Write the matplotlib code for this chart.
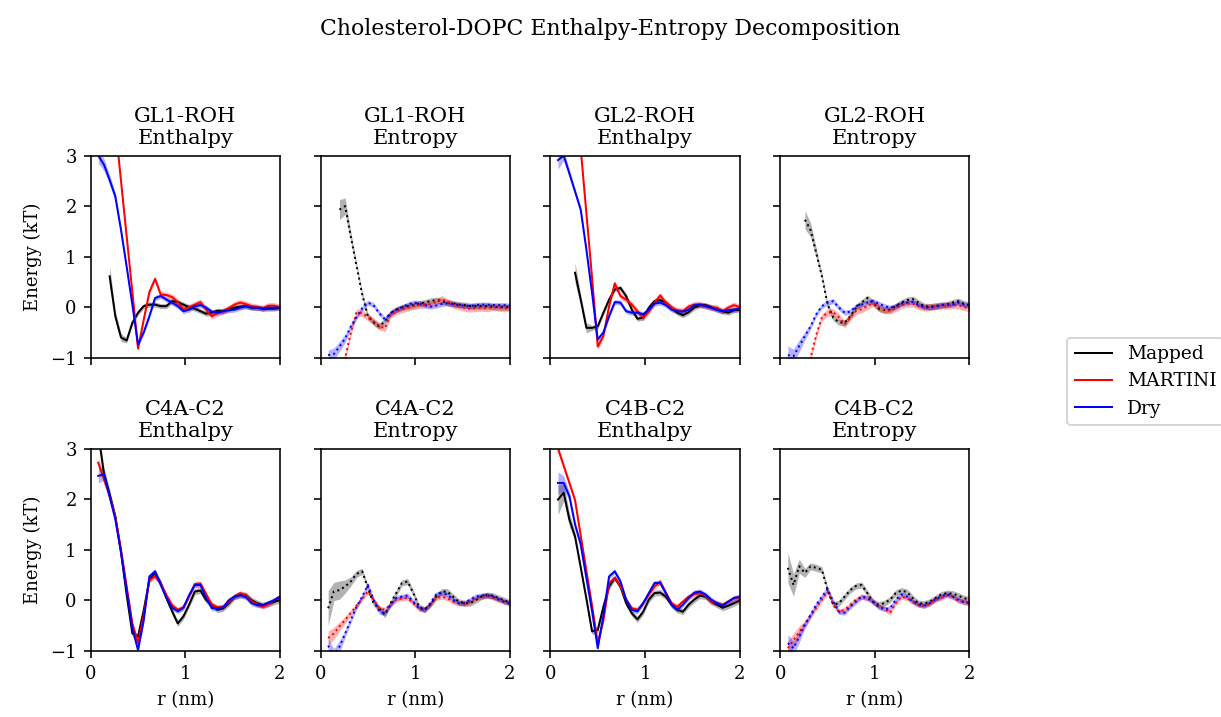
import numpy as np
import matplotlib
matplotlib.use('Agg')
import matplotlib.pyplot as plt

plt.rcParams['font.family'] = ['DejaVu Serif']
plt.rcParams['font.size'] = 9

# r grid (nm)
r = np.round(0.08 + 0.06 * np.arange(33), 2)
nan = np.nan

# ---- GL1-ROH enthalpy ----
gl1_enth_mapped = [nan, nan, 0.61, -0.18, -0.6, -0.66, -0.31, -0.11, 0.02, 0.05, 0.05, 0.02, 0.02, 0.12, 0.1, 0.05,
                   0.0, -0.03, -0.08, -0.13, -0.11, -0.07, -0.08, -0.03, -0.01, 0.01, 0.02, -0.01, -0.01, -0.03,
                   -0.03, -0.03, -0.01]
gl1_enth_martini = [9.0, 7.0, 5.0, 3.6, 2.5, 1.4, 0.3, -0.82, -0.25, 0.3, 0.56, 0.25, 0.24, 0.2, 0.1, -0.04, 0.0,
                    0.05, 0.1, -0.05, -0.18, -0.12, -0.08, -0.02, 0.05, 0.09, 0.06, 0.02, 0.0, -0.02, 0.03, 0.03, 0.0]
gl1_enth_dry = [3.0, 2.82, 2.52, 2.19, 1.53, 0.8, 0.05, -0.74, -0.5, -0.18, 0.18, 0.22, 0.15, 0.09, 0.02, -0.08,
                -0.05, 0.02, 0.04, -0.01, -0.09, -0.11, -0.08, -0.06, -0.05, -0.01, 0.02, -0.01, -0.01, -0.03,
                -0.01, -0.01, -0.01]

# ---- GL1-ROH entropy ----
gl1_entr_mapped = [nan, nan, 1.93, 2.0, 1.39, 0.82, 0.25, -0.18, -0.3, -0.38, -0.28, -0.12, -0.05, -0.01, 0.02,
                   0.04, 0.07, 0.09, 0.12, 0.14, 0.12, 0.09, 0.07, 0.05, 0.04, 0.02, 0.02, 0.02, 0.02, 0.01, 0.0,
                   0.0, 0.0]
gl1_entr_martini = [-1.6, -1.4, -1.2, -1.0, -0.5, -0.1, -0.12, -0.2, -0.28, -0.38, -0.42, -0.15, -0.08, -0.04,
                    -0.01, 0.02, 0.04, 0.05, 0.06, 0.1, 0.16, 0.1, 0.05, 0.02, -0.01, -0.03, -0.02, -0.01, -0.02,
                    0.0, -0.01, -0.02, -0.02]
gl1_entr_dry = [-0.95, -0.93, -0.78, -0.62, -0.38, -0.2, -0.02, 0.09, 0.04, -0.12, -0.24, -0.12, -0.05, 0.0, 0.05,
                0.09, 0.08, 0.04, 0.01, 0.03, 0.06, 0.08, 0.06, 0.04, 0.03, 0.02, 0.04, 0.05, 0.05, 0.04, 0.04,
                0.04, 0.03]

# ---- GL2-ROH enthalpy ----
gl2_enth_mapped = [nan, nan, nan, 0.68, 0.15, -0.41, -0.41, -0.38, -0.11, 0.15, 0.35, 0.38, 0.22, -0.05, -0.23,
                   -0.21, -0.01, 0.12, 0.14, 0.09, -0.01, -0.11, -0.16, -0.1, -0.01, 0.04, 0.04, 0.0, -0.05, -0.08,
                   -0.11, -0.06, -0.05]
gl2_enth_martini = [9.0, 7.0, 5.5, 4.2, 3.14, 1.86, 0.58, -0.78, -0.57, 0.02, 0.47, 0.22, 0.15, 0.05, -0.08, -0.21,
                    -0.09, 0.09, 0.23, 0.09, -0.01, -0.06, -0.08, 0.01, 0.05, 0.05, 0.02, -0.01, -0.01, -0.08, -0.01,
                    0.04, 0.0]
gl2_enth_dry = [2.91, 3.0, 2.65, 2.29, 1.93, 1.14, 0.28, -0.64, -0.5, -0.18, 0.1, 0.09, -0.08, -0.11, -0.11, -0.14,
                -0.05, 0.07, 0.09, 0.04, -0.05, -0.08, -0.09, -0.05, 0.04, 0.05, 0.02, -0.01, -0.05, -0.08, -0.06,
                -0.05, -0.03]

# ---- GL2-ROH entropy ----
gl2_entr_mapped = [nan, nan, nan, 1.73, 1.53, 1.07, 0.61, 0.05, -0.21, -0.3, -0.31, -0.18, -0.01, 0.09, 0.18, 0.09,
                   -0.03, -0.06, -0.05, 0.02, 0.09, 0.14, 0.16, 0.09, 0.02, 0.01, 0.02, 0.04, 0.05, 0.09, 0.12, 0.07,
                   0.04]
gl2_entr_martini = [-2.0, -1.8, -1.5, -1.25, -1.0, -0.55, -0.2, -0.11, -0.1, -0.2, -0.34, -0.2, -0.08, -0.04, 0.02,
                    0.08, 0.0, -0.06, -0.07, -0.02, 0.04, 0.07, 0.07, 0.02, -0.01, 0.0, 0.02, 0.03, 0.03, 0.04, 0.04,
                    0.0, -0.02]
gl2_entr_dry = [-0.95, -0.97, -0.77, -0.57, -0.38, -0.14, 0.02, 0.09, 0.12, -0.01, -0.11, -0.09, 0.02, 0.05, 0.09,
                0.12, 0.07, 0.02, -0.01, 0.02, 0.07, 0.09, 0.1, 0.04, 0.0, -0.01, 0.01, 0.04, 0.05, 0.05, 0.09,
                0.05, 0.04]

# ---- C4A-C2 enthalpy ----
c4a_enth_mapped = [3.3, 2.5, 2.1, 1.65, 0.95, 0.1, -0.66, -0.72, -0.2, 0.4, 0.54, 0.34, 0.04, -0.22, -0.46, -0.32,
                   -0.09, 0.17, 0.19, 0.0, -0.09, -0.19, -0.16, -0.06, 0.07, 0.1, 0.1, 0.0, -0.06, -0.1, -0.07,
                   -0.03, 0.0]
c4a_enth_martini = [2.72, 2.39, 2.06, 1.66, 1.0, 0.27, -0.46, -0.85, -0.3, 0.4, 0.47, 0.33, 0.1, -0.1, -0.19, -0.14,
                    0.07, 0.32, 0.33, 0.12, -0.09, -0.14, -0.13, -0.04, 0.07, 0.14, 0.1, -0.02, -0.08, -0.13, -0.08,
                    0.0, 0.06]
c4a_enth_dry = [2.46, 2.49, 2.05, 1.6, 0.95, 0.2, -0.55, -0.99, -0.4, 0.47, 0.57, 0.3, 0.05, -0.15, -0.22, -0.15,
                0.1, 0.3, 0.3, 0.05, -0.16, -0.16, -0.14, 0.0, 0.07, 0.1, 0.06, -0.06, -0.1, -0.1, -0.05, 0.0, 0.07]

# ---- C4A-C2 entropy ----
c4a_entr_mapped = [-0.16, 0.17, 0.2, 0.27, 0.37, 0.52, 0.57, 0.24, -0.06, -0.16, -0.29, -0.06, 0.14, 0.34, 0.37,
                   0.14, -0.13, -0.19, -0.09, 0.07, 0.17, 0.17, 0.07, -0.03, -0.06, -0.06, 0.0, 0.07, 0.1, 0.09,
                   0.04, 0.0, -0.05]
c4a_entr_martini = [-0.75, -0.66, -0.52, -0.39, -0.25, -0.11, 0.03, 0.17, 0.01, -0.16, -0.19, -0.09, 0.01, 0.04,
                    0.04, -0.06, -0.16, -0.19, -0.09, 0.04, 0.07, 0.04, -0.03, -0.06, -0.07, -0.03, 0.04, 0.07, 0.09,
                    0.05, 0.01, -0.03, -0.06]
c4a_entr_dry = [-0.9, -1.1, -0.92, -0.66, -0.39, -0.13, 0.07, 0.3, 0.01, -0.23, -0.26, -0.09, 0.04, 0.07, 0.09,
                -0.03, -0.16, -0.19, -0.06, 0.11, 0.14, 0.11, 0.01, -0.06, -0.06, 0.01, 0.07, 0.09, 0.1, 0.07, 0.02,
                -0.03, -0.06]

# ---- C4B-C2 enthalpy ----
c4b_enth_mapped = [1.99, 2.13, 1.6, 1.26, 0.65, 0.03, -0.62, -0.59, -0.13, 0.27, 0.44, 0.27, -0.06, -0.26, -0.38,
                   -0.23, 0.01, 0.14, 0.15, 0.07, -0.09, -0.19, -0.23, -0.09, 0.01, 0.09, 0.07, -0.03, -0.09, -0.15,
                   -0.11, -0.06, -0.01]
c4b_enth_martini = [3.0, 2.66, 2.32, 1.98, 1.28, 0.58, -0.11, -0.85, -0.4, 0.34, 0.44, 0.27, 0.01, -0.16, -0.19,
                    -0.06, 0.11, 0.27, 0.37, 0.14, -0.06, -0.13, -0.03, 0.07, 0.12, 0.14, 0.09, -0.03, -0.06, -0.09,
                    -0.03, 0.04, 0.05]
c4b_enth_dry = [2.32, 2.32, 2.06, 1.5, 1.1, 0.44, -0.22, -0.95, -0.3, 0.47, 0.57, 0.37, 0.01, -0.19, -0.22, -0.06,
                0.14, 0.34, 0.34, 0.14, -0.09, -0.19, -0.09, 0.04, 0.15, 0.17, 0.11, 0.01, -0.06, -0.11, -0.03, 0.04,
                0.07]

# ---- C4B-C2 entropy ----
c4b_entr_mapped = [0.64, 0.3, 0.67, 0.54, 0.67, 0.64, 0.6, 0.2, -0.09, -0.06, 0.07, 0.2, 0.28, 0.3, 0.14, -0.03,
                   -0.09, -0.06, 0.01, 0.14, 0.19, 0.16, 0.04, -0.06, -0.07, -0.03, 0.04, 0.11, 0.14, 0.13, 0.09,
                   0.04, 0.01]
c4b_entr_martini = [-0.95, -0.79, -0.63, -0.47, -0.31, -0.15, 0.01, 0.17, -0.09, -0.23, -0.19, -0.09, 0.01, 0.07,
                    0.04, -0.03, -0.13, -0.16, -0.25, -0.06, 0.07, 0.04, -0.03, -0.09, -0.11, -0.07, 0.01, 0.04, 0.1,
                    0.07, -0.01, -0.03, -0.06]
c4b_entr_dry = [-0.85, -0.95, -0.72, -0.49, -0.29, -0.09, 0.07, 0.22, -0.03, -0.23, -0.25, -0.13, -0.03, 0.07,
                0.04, -0.03, -0.13, -0.18, -0.16, 0.01, 0.11, 0.07, -0.03, -0.09, -0.11, -0.06, 0.02, 0.07, 0.12,
                0.07, 0.01, -0.04, -0.06]

# standard errors (kT): first points are noisier, the rest are small
gl1_enth_err = {'Mapped': [0, 0, 0.2, 0.1, 0.08] + [0.05] * 28,
                'MARTINI': [0.06] * 33,
                'Dry': [0.15, 0.12, 0.1, 0.08, 0.06] + [0.05] * 28}
gl1_entr_err = {'Mapped': [0, 0, 0.2, 0.16, 0.1] + [0.06] * 28,
                'MARTINI': [0.07] * 33,
                'Dry': [0.1, 0.12, 0.1, 0.08, 0.06] + [0.05] * 28}
gl2_enth_err = {'Mapped': [0, 0, 0, 0.2, 0.1, 0.1] + [0.05] * 27,
                'MARTINI': [0.06] * 33,
                'Dry': [0.18, 0.1, 0.08, 0.06, 0.06] + [0.05] * 28}
gl2_entr_err = {'Mapped': [0, 0, 0, 0.18, 0.14, 0.1] + [0.06] * 27,
                'MARTINI': [0.07] * 33,
                'Dry': [0.18, 0.14, 0.12, 0.08, 0.06] + [0.05] * 28}
c4a_enth_err = {'Mapped': [0.12, 0.12, 0.1, 0.07, 0.06] + [0.06] * 28,
                'MARTINI': [0.1, 0.07, 0.06, 0.06, 0.06] + [0.05] * 28,
                'Dry': [0.14, 0.12, 0.07, 0.06, 0.06] + [0.05] * 28}
c4a_entr_err = {'Mapped': [0.35, 0.18, 0.18, 0.13, 0.09, 0.07] + [0.06] * 27,
                'MARTINI': [0.14, 0.12, 0.09, 0.07, 0.06] + [0.05] * 28,
                'Dry': [0.14, 0.14, 0.12, 0.07, 0.06] + [0.05] * 28}
c4b_enth_err = {'Mapped': [0.3, 0.17, 0.14, 0.09, 0.07] + [0.06] * 28,
                'MARTINI': [0.07, 0.06, 0.06, 0.06, 0.06] + [0.05] * 28,
                'Dry': [0.22, 0.14, 0.09, 0.07, 0.06] + [0.05] * 28}
c4b_entr_err = {'Mapped': [0.3, 0.22, 0.14, 0.09, 0.07, 0.07] + [0.06] * 27,
                'MARTINI': [0.14, 0.14, 0.12, 0.07, 0.06] + [0.05] * 28,
                'Dry': [0.17, 0.14, 0.12, 0.07, 0.06] + [0.05] * 28}

pairs = ['GL1-ROH', 'GL2-ROH', 'C4A-C2', 'C4B-C2']
models = ['Mapped', 'MARTINI', 'Dry']
colors = {'Mapped': 'k', 'MARTINI': 'r', 'Dry': 'b'}

enthalpy = {
    'GL1-ROH': ([gl1_enth_mapped, gl1_enth_martini, gl1_enth_dry], gl1_enth_err),
    'GL2-ROH': ([gl2_enth_mapped, gl2_enth_martini, gl2_enth_dry], gl2_enth_err),
    'C4A-C2': ([c4a_enth_mapped, c4a_enth_martini, c4a_enth_dry], c4a_enth_err),
    'C4B-C2': ([c4b_enth_mapped, c4b_enth_martini, c4b_enth_dry], c4b_enth_err),
}
entropy = {
    'GL1-ROH': ([gl1_entr_mapped, gl1_entr_martini, gl1_entr_dry], gl1_entr_err),
    'GL2-ROH': ([gl2_entr_mapped, gl2_entr_martini, gl2_entr_dry], gl2_entr_err),
    'C4A-C2': ([c4a_entr_mapped, c4a_entr_martini, c4a_entr_dry], c4a_entr_err),
    'C4B-C2': ([c4b_entr_mapped, c4b_entr_martini, c4b_entr_dry], c4b_entr_err),
}

fig, axes = plt.subplots(2, 4, figsize=(1221 / 144, 717 / 144), dpi=144, sharex=True, sharey=True)
fig.subplots_adjust(left=0.0743, right=0.794, top=0.783, bottom=0.0925, wspace=0.215, hspace=0.45)


def draw(ax, series, errs, style, title):
    for name, y in zip(models, series):
        y = np.array(y, dtype=float)
        e = np.array(errs[name], dtype=float)
        ax.fill_between(r, y - e, y + e, color=colors[name], alpha=0.3, lw=0)
        ax.plot(r, y, color=colors[name], lw=1, ls=style, label=name)
    ax.set_title(title, fontsize=10.5)


for i, pair in enumerate(pairs):
    row = i // 2
    col = (i % 2) * 2
    draw(axes[row, col], *enthalpy[pair], '-', f'{pair}\nEnthalpy')
    draw(axes[row, col + 1], *entropy[pair], ':', f'{pair}\nEntropy')

for ax in axes.flat:
    ax.set_xlim(0, 2)
    ax.set_ylim(-1, 3)
    ax.set_xticks([0, 1, 2])
    ax.set_yticks([-1, 0, 1, 2, 3])
for ax in axes[:, 0]:
    ax.set_ylabel('Energy (kT)')
for ax in axes[1, :]:
    ax.set_xlabel('r (nm)')

handles, labels = axes[0, 0].get_legend_handles_labels()
fig.legend(handles, labels, loc='center left', bbox_to_anchor=(0.874, 0.468), borderaxespad=0,
           fontsize=9.3)
fig.suptitle('Cholesterol-DOPC Enthalpy-Entropy Decomposition', y=0.975, fontsize=11)

fig.savefig('out.png', dpi=144)
